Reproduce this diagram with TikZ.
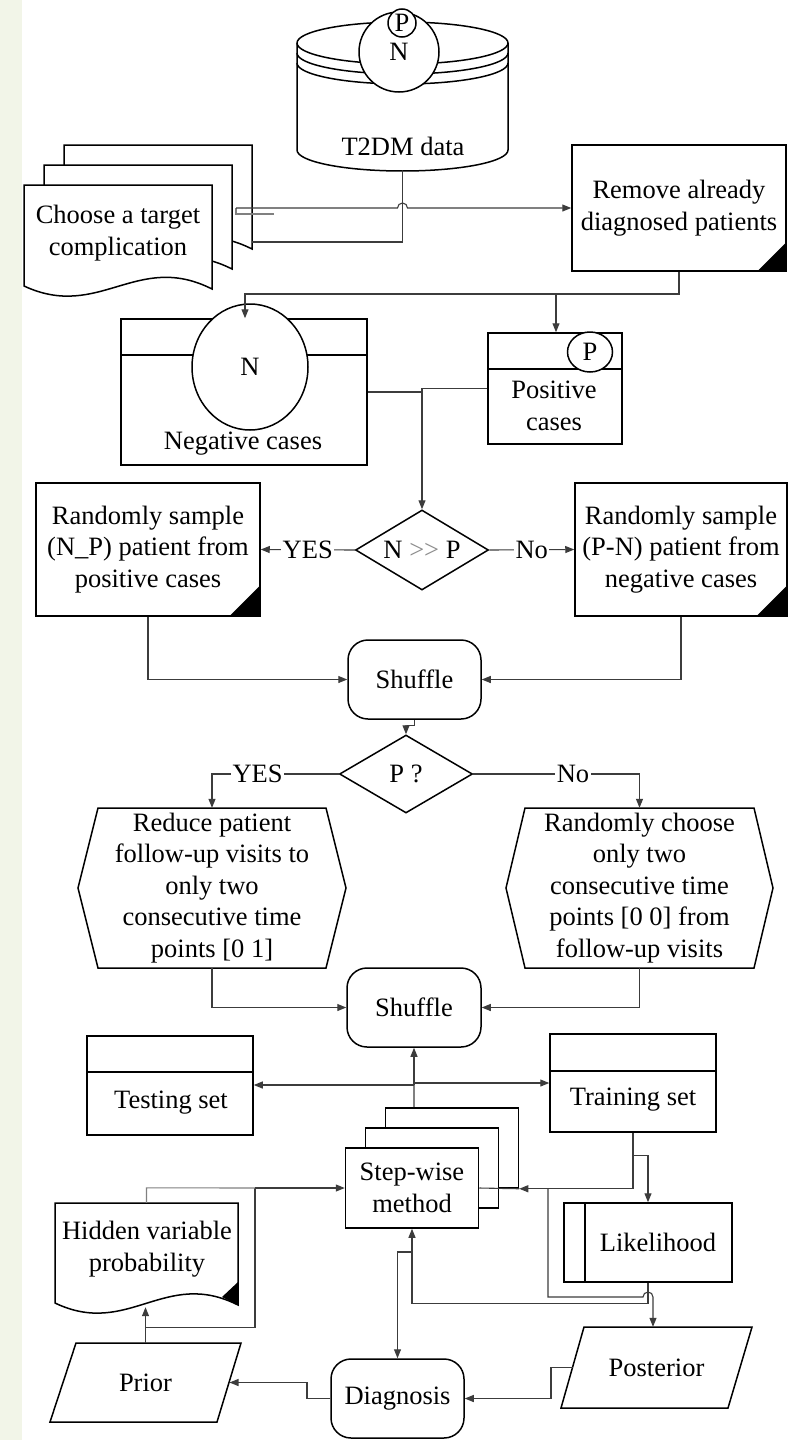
\documentclass[tikz,border=0pt]{standalone}
\usepackage{fontspec}
\setmainfont{Liberation Serif}
\usetikzlibrary{arrows.meta,shapes.geometric}
\definecolor{stripbg}{HTML}{F2F5E8}
\definecolor{linkgray}{HTML}{3C3C3C}
\definecolor{softgray}{HTML}{808080}

\begin{document}
\begin{tikzpicture}[x=1pt,y=-1pt,
  base/.style={font=\fontsize{26.5}{31.5}\selectfont, align=center, inner sep=0pt, text=black},
  outline/.style={draw=black, line width=1.5pt, fill=white},
  box/.style={base, outline, rectangle},
  rbox/.style={box, rounded corners=20pt},
  hold/.style={base, rectangle, draw=none},
  lbl/.style={base, fill=white, inner sep=1.5pt},
  link/.style={draw=linkgray, line width=1.1pt},
  flow/.style={link, -{Triangle[length=9pt,width=7pt]}},
  corner/.style={fill=black}
]
\useasboundingbox (0,0) rectangle (789,1440);
\fill[white] (0,0) rectangle (789,1440);
\fill[stripbg] (0,0) rectangle (22,1440);

% ---------- database ----------
\node[hold, minimum width=211pt, minimum height=149pt] (db) at (402.5,96.5) {};
\draw[outline] (297,43) -- (297,150)
  arc[start angle=180,end angle=0,x radius=105.5,y radius=21] -- (508,43)
  arc[start angle=0,end angle=-180,x radius=105.5,y radius=21] -- cycle;
\foreach \yy in {43,53,63}
  \draw[line width=1.5pt] (297,\yy) arc[start angle=180,end angle=0,x radius=105.5,y radius=21];
\node[base, circle, draw=black, line width=1.5pt, fill=white, minimum size=80pt] (dbN) at (399,52) {N};
\node[base, circle, draw=black, line width=1.5pt, fill=white, minimum size=28pt] (dbP) at (402,23) {P};
\node[base] (dbText) at (403,146) {T2DM data};

% ---------- stacked documents ----------
\draw[outline] (64,145) -- (252,145) -- (252,249) .. controls (176.8,211) and (139.2,281) .. (64,246) -- cycle;
\draw[outline] (44,165) -- (232,165) -- (232,269) .. controls (156.8,231) and (119.2,301) .. (44,266) -- cycle;
\draw[outline] (24,185) -- (212,185) -- (212,289) .. controls (136.8,251) and (99.2,321) .. (24,286) -- cycle;
\node[hold] (choose) at (118,233) {Choose a target\\complication};

% ---------- remove ----------
\node[box, minimum width=214pt, minimum height=126pt] (remove) at (679,208) {Remove already\\diagnosed patients};
\fill[corner] (remove.south east) -- ++(0,-30) -- ++(-30,30) -- cycle;

% ---------- negative / positive ----------
\node[box, minimum width=246pt, minimum height=146pt] (negative) at (244,392) {};
\draw[line width=1.5pt] (121,355) -- (367,355);
\node[base, ellipse, draw=black, line width=1.5pt, fill=white, minimum width=116pt, minimum height=126pt] (negN) at (250,367) {N};
\node[base] (negText) at (243,444) {Negative cases};

\node[box, minimum width=134pt, minimum height=111pt] (positive) at (555,388.5) {};
\draw[line width=1.5pt] (488,369) -- (622,369);
\node[base, ellipse, draw=black, line width=1.5pt, fill=white, minimum width=45pt, minimum height=40pt] (posP) at (590,352) {P};
\node[base] (posText) at (554,406) {Positive\\cases};

% ---------- first decision ----------
\node[base, diamond, draw=black, line width=1.5pt, fill=white, aspect=1.66, minimum width=133pt, minimum height=80pt] (npDec) at (422,550) {N {\color{black!45}>\kern0pt>} P};
\node[box, minimum width=224pt, minimum height=133pt] (sampleP) at (148,549.5) {Randomly sample\\(N\_P) patient from\\positive cases};
\fill[corner] (sampleP.south east) -- ++(0,-32) -- ++(-32,32) -- cycle;
\node[box, minimum width=212pt, minimum height=133pt] (sampleN) at (681,549.5) {Randomly sample\\(P-N) patient from\\negative cases};
\fill[corner] (sampleN.south east) -- ++(0,-32) -- ++(-32,32) -- cycle;

% ---------- first shuffle and second decision ----------
\node[rbox, minimum width=133pt, minimum height=79pt] (shuffleA) at (414.5,679.5) {Shuffle};
\node[base, diamond, draw=black, line width=1.5pt, fill=white, aspect=1.7, minimum width=133pt, minimum height=78pt] (pDec) at (406,774) {P ?};

% ---------- hexagons ----------
\draw[outline] (78,888) -- (98,808) -- (326,808) -- (346,888) -- (326,968) -- (98,968) -- cycle;
\node[hold, minimum width=268pt, minimum height=160pt] (reduce) at (212,888) {Reduce patient\\follow-up visits to\\only two\\consecutive time\\points [0 1]};
\draw[outline] (506,888) -- (525,808) -- (754,808) -- (773,888) -- (754,968) -- (525,968) -- cycle;
\node[hold, minimum width=267pt, minimum height=160pt] (pick) at (639.5,888) {Randomly choose\\only two\\consecutive time\\points [0 0] from\\follow-up visits};

% ---------- second shuffle, data sets ----------
\node[rbox, minimum width=134pt, minimum height=79pt] (shuffleB) at (414,1007.5) {Shuffle};
\node[box, minimum width=166pt, minimum height=99pt] (testing) at (170,1085.5) {};
\draw[line width=1.5pt] (87,1072) -- (253,1072);
\node[base] (testText) at (171,1103) {Testing set};
\node[box, minimum width=166pt, minimum height=98pt] (training) at (633,1083) {};
\draw[line width=1.5pt] (550,1071) -- (716,1071);
\node[base] (trainText) at (633,1100) {Training set};

% ---------- step-wise stack ----------
\node[box, minimum width=133pt, minimum height=80pt] (stepC) at (452,1148) {};
\node[box, minimum width=133pt, minimum height=80pt] (stepB) at (432,1168) {};
\node[box, minimum width=133pt, minimum height=80pt] (step) at (412,1188) {Step-wise\\method};

% ---------- likelihood ----------
\node[box, minimum width=168pt, minimum height=79pt] (likelihood) at (648,1242.5) {};
\draw[line width=1.5pt] (585,1203) -- (585,1282);
\node[base] (likeText) at (658,1242) {Likelihood};

% ---------- hidden variable document ----------
\draw[outline] (55,1203) -- (238,1203) -- (238,1305) .. controls (164.8,1268) and (128.2,1338) .. (55,1303) -- cycle;
\fill[corner] (238,1282) -- (238,1305) -- (222,1297) -- cycle;
\node[hold, minimum width=183pt, minimum height=104pt] (hidden) at (146.5,1255) {};
\node[base] (hiddenText) at (147,1249) {Hidden variable\\probability};

% ---------- prior / posterior / diagnosis ----------
\draw[outline] (76,1343) -- (241,1343) -- (217,1422) -- (50,1422) -- cycle;
\node[hold, minimum width=191pt, minimum height=79pt] (prior) at (145.5,1382.5) {Prior};
\coordinate (priorR) at (229.5,1382.5);
\draw[outline] (584,1327) -- (752,1327) -- (728,1408) -- (561,1408) -- cycle;
\node[hold, minimum width=191pt, minimum height=81pt] (posterior) at (656.5,1367.5) {Posterior};
\coordinate (postL) at (572.5,1367.5);
\node[rbox, minimum width=133pt, minimum height=79pt] (diag) at (397.5,1398.5) {Diagnosis};

% ---------- connectors ----------
\coordinate (stackIn) at (252,242);
\draw[link] (db.south) -- (db.south |- stackIn) -- (stackIn);
\coordinate (chooseOut) at (274,214);
\draw[link, softgray] (chooseOut) -- (236,214) -- (236,208);
\draw[flow] (236,208) -- (397.5,208) arc[start angle=180,end angle=360,radius=5] -- (remove.west |- 0,208);

\draw[flow] (remove.south) -- (remove.south |- 0,294) -- (245,294) -- (245,294 |- negative.north);
\draw[flow] (556,294) -- (556,294 |- positive.north);

\draw[link] (negative.east) -- (negative.east -| npDec.north);
\draw[flow] (positive.west) -| (npDec.north);

\draw[flow] (npDec.west) -- node[lbl]{YES} (sampleP.east);
\draw[flow] (npDec.east) -- node[lbl]{No} (sampleN.west);

\draw[flow] (sampleP.south) |- (shuffleA.west);
\draw[flow] (sampleN.south) |- (shuffleA.east);
\draw[flow] (shuffleA.south) -- ++(0,6) -| (pDec.north);

\draw[flow] (pDec.west) -| node[lbl, pos=0.32]{YES} (reduce.north);
\draw[flow] (pDec.east) -| node[lbl, pos=0.30]{No} (pick.north);

\draw[flow] (reduce.south) |- (shuffleB.west);
\draw[flow] (pick.south) |- (shuffleB.east);

\coordinate (split) at (414,1085);
\draw[link, softgray] (stepC.north -| split) -- (split);
\draw[flow] (split) -- (shuffleB.south -| split);
\draw[flow] (split) -- (split -| testing.east);
\draw[flow] (split |- training.west) -- (training.west);

\draw[flow] (training.south) |- (stepC.south east);
\draw[link] (stepC.south east) -- (step.east);
\draw[flow] (training.south) -- ++(0,23) -| (likelihood.north);
\coordinate (tap) at (548,1188);
\draw[flow] (tap) -- (548,1297) -- (643,1297) arc[start angle=180,end angle=360,radius=5] -- (posterior.north -| 653,0);

\draw[flow] (likelihood.south) -- ++(0,21) -| (step.south);
\draw[flow] (step.south |- 0,1252) -| (diag.north);

\draw[flow] (postL) -- (551,1367.5) |- (diag.east);
\draw[flow] (diag.west) -- (307,1398.5) |- (priorR);

\coordinate (merge) at (255,1188);
\draw[flow] (prior.north) -- (prior.north |- hidden.south);
\draw[link] (prior.north) ++(0,-15) -| (merge);
\draw[link, softgray] (hidden.north) -- ++(0,-15) -- (merge);
\draw[flow] (merge) -- (step.west);
\end{tikzpicture}
\end{document}
